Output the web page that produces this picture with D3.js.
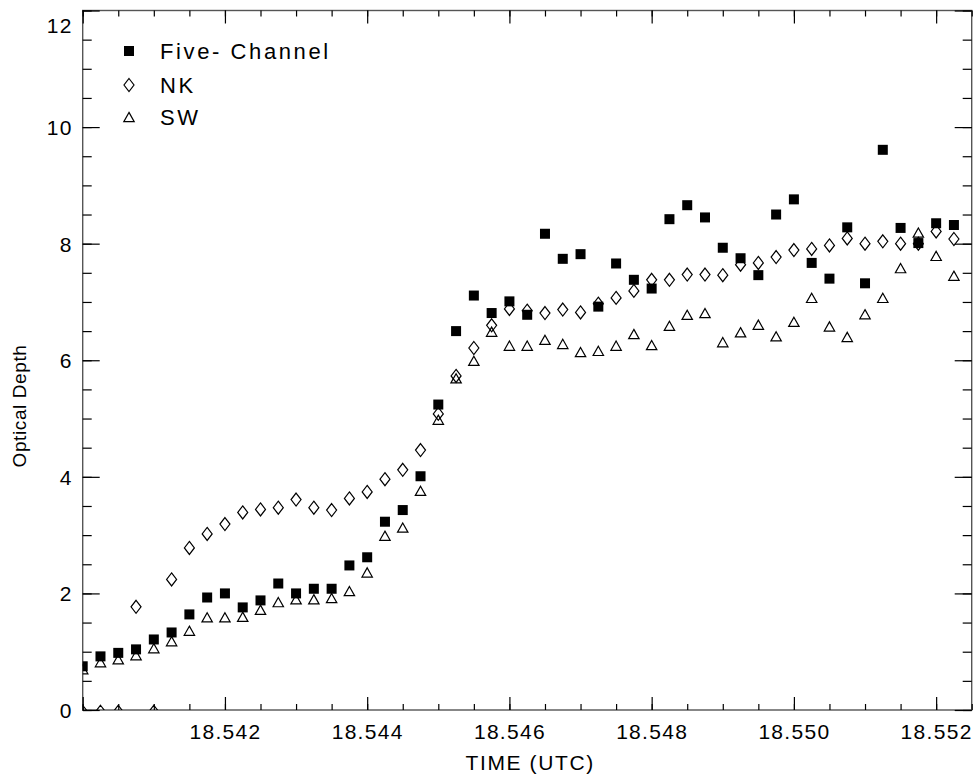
<!DOCTYPE html>
<html>
<head>
<meta charset="utf-8">
<script src="https://cdn.jsdelivr.net/npm/d3@7"></script>
<style>
  html, body { margin: 0; padding: 0; background: #fff; }
  svg text { font-family: "Liberation Sans", Arial, sans-serif; fill: #000; }
</style>
</head>
<body>
<svg id="chart" width="979" height="778"></svg>
<script>
// ---- data ----
const times = [
  18.54000, 18.54025, 18.54050, 18.54075, 18.54100, 18.54125, 18.54150, 18.54175, 18.54200, 18.54225,
  18.54250, 18.54275, 18.54300, 18.54325, 18.54350, 18.54375, 18.54400, 18.54425, 18.54450, 18.54475,
  18.54500, 18.54525, 18.54550, 18.54575, 18.54600, 18.54625, 18.54650, 18.54675, 18.54700, 18.54725,
  18.54750, 18.54775, 18.54800, 18.54825, 18.54850, 18.54875, 18.54900, 18.54925, 18.54950, 18.54975,
  18.55000, 18.55025, 18.55050, 18.55075, 18.55100, 18.55125, 18.55150, 18.55175, 18.55200, 18.55225
];
const fiveChannel = [
  0.75, 0.92, 0.98, 1.04, 1.21, 1.33, 1.64, 1.93, 2.00, 1.76,
  1.88, 2.17, 2.00, 2.08, 2.08, 2.48, 2.62, 3.23, 3.43, 4.01,
  5.24, 6.50, 7.11, 6.81, 7.01, 6.78, 8.17, 7.74, 7.82, 6.92,
  7.66, 7.38, 7.23, 8.42, 8.66, 8.45, 7.93, 7.75, 7.46, 8.50,
  8.76, 7.67, 7.40, 8.28, 7.32, 9.61, 8.27, 8.01, 8.35, 8.32
];
const nk = [
  -0.03, -0.03, -0.03, 1.77, -0.03, 2.24, 2.78, 3.02, 3.19, 3.39,
  3.44, 3.47, 3.61, 3.47, 3.43, 3.63, 3.74, 3.96, 4.12, 4.46,
  5.08, 5.73, 6.21, 6.60, 6.88, 6.85, 6.81, 6.87, 6.82, 6.97,
  7.07, 7.19, 7.38, 7.38, 7.47, 7.47, 7.46, 7.64, 7.67, 7.77,
  7.89, 7.91, 7.97, 8.09, 8.00, 8.04, 8.00, 8.00, 8.21, 8.08
];
const sw = [
  0.70, 0.82, 0.87, 0.94, 1.06, 1.18, 1.36, 1.59, 1.59, 1.60,
  1.72, 1.85, 1.90, 1.90, 1.92, 2.04, 2.36, 2.99, 3.13, 3.76,
  4.98, 5.69, 5.99, 6.49, 6.25, 6.25, 6.35, 6.28, 6.14, 6.16,
  6.25, 6.45, 6.26, 6.59, 6.78, 6.81, 6.31, 6.48, 6.61, 6.41,
  6.66, 7.07, 6.58, 6.40, 6.79, 7.07, 7.58, 8.19, 7.79, 7.45
];
const xMajorTicks = [18.540, 18.542, 18.544, 18.546, 18.548, 18.550, 18.552];
const xTickLabels = ["", "18.542", "18.544", "18.546", "18.548", "18.550", "18.552"];
const yMajorTicks = [0, 2, 4, 6, 8, 10, 12];
const yTickLabels = ["0", "2", "4", "6", "8", "10", "12"];
const legendLabels = ["Five- Channel", "NK", "SW"];
const xTitle = "TIME (UTC)";
const yTitle = "Optical Depth";

// ---- layout ----
const L = 82.7, R = 971.7, T = 10.5, B = 710;
const svg = d3.select("#chart");
const x = d3.scaleLinear().domain([18.540, 18.5525]).range([L, R]);
const y = d3.scaleLinear().domain([0, 12]).range([B, T]);

const xMinor = d3.range(0, 26).map(i => 18.540 + i * 0.0005).filter(v => v <= 18.5525 + 1e-9);
const yMinor = d3.range(0, 25).map(i => i * 0.5);

// clip
svg.append("clipPath").attr("id", "plotclip")
  .append("rect").attr("x", L).attr("y", T).attr("width", R - L).attr("height", B - T);

// frame
svg.append("rect").attr("x", L).attr("y", T).attr("width", R - L).attr("height", B - T)
  .attr("fill", "none").attr("stroke", "#555").attr("stroke-width", 1.4);

function styleAxis(g) {
  g.select(".domain").remove();
  g.selectAll(".tick line").attr("stroke", "#000").attr("stroke-width", 1.2);
  g.selectAll(".tick text").style("font-size", "21px").style("letter-spacing", "1.3px");
}

// bottom axis minor + major
svg.append("g").attr("transform", `translate(0,${B})`)
  .call(d3.axisBottom(x).tickValues(xMinor).tickSize(-6).tickFormat(""))
  .call(styleAxis);
svg.append("g").attr("transform", `translate(0,${B})`)
  .call(d3.axisBottom(x).tickValues(xMajorTicks).tickSize(-13).tickPadding(20)
    .tickFormat((d, i) => xTickLabels[i]))
  .call(styleAxis)
  .call(g => g.selectAll(".tick text").attr("dy", "0.3em").attr("y", 23));
// top axis
svg.append("g").attr("transform", `translate(0,${T})`)
  .call(d3.axisTop(x).tickValues(xMinor).tickSize(-6).tickFormat(""))
  .call(styleAxis);
svg.append("g").attr("transform", `translate(0,${T})`)
  .call(d3.axisTop(x).tickValues(xMajorTicks).tickSize(-13).tickFormat(""))
  .call(styleAxis);
// left axis
svg.append("g").attr("transform", `translate(${L},0)`)
  .call(d3.axisLeft(y).tickValues(yMinor).tickSize(-9).tickFormat(""))
  .call(styleAxis);
svg.append("g").attr("transform", `translate(${L},0)`)
  .call(d3.axisLeft(y).tickValues(yMajorTicks).tickSize(-17).tickPadding(10)
    .tickFormat((d, i) => yTickLabels[i]))
  .call(styleAxis)
  .call(g => g.selectAll(".tick text")
    .attr("x", -10)
    .attr("dy", d => d === 12 ? "1.05em" : "0.36em"));
// right axis
svg.append("g").attr("transform", `translate(${R},0)`)
  .call(d3.axisRight(y).tickValues(yMinor).tickSize(-9).tickFormat(""))
  .call(styleAxis);
svg.append("g").attr("transform", `translate(${R},0)`)
  .call(d3.axisRight(y).tickValues(yMajorTicks).tickSize(-17).tickFormat(""))
  .call(styleAxis);

// titles
svg.append("text").attr("x", (L + R) / 2 + 3).attr("y", 770)
  .attr("text-anchor", "middle").style("font-size", "21px").style("letter-spacing", "1.6px")
  .text(xTitle);
svg.append("text").attr("transform", `translate(26,${406}) rotate(-90)`)
  .attr("text-anchor", "middle").style("font-size", "19px").style("letter-spacing", "0.6px")
  .text(yTitle);

// markers
const sq = 10, dw = 5, dh = 6.5, tw = 5.2, th = 4.6;
const diamondPath = (cx, cy) => `M${cx},${cy - dh}L${cx + dw},${cy}L${cx},${cy + dh}L${cx - dw},${cy}Z`;
const trianglePath = (cx, cy) => `M${cx},${cy - th}L${cx + tw},${cy + th}L${cx - tw},${cy + th}Z`;

const plot = svg.append("g").attr("clip-path", "url(#plotclip)");

plot.append("g").selectAll("path").data(times).join("path")
  .attr("d", (t, i) => diamondPath(x(t), y(nk[i])))
  .attr("fill", "none").attr("stroke", "#000").attr("stroke-width", 1.2);
plot.append("g").selectAll("path").data(times).join("path")
  .attr("d", (t, i) => trianglePath(x(t), y(sw[i])))
  .attr("fill", "none").attr("stroke", "#000").attr("stroke-width", 1.2);
plot.append("g").selectAll("rect").data(times).join("rect")
  .attr("x", t => x(t) - sq / 2)
  .attr("y", (t, i) => y(fiveChannel[i]) - sq / 2)
  .attr("width", sq).attr("height", sq).attr("fill", "#000");

// legend
const lg = svg.append("g");
const legY = [51, 85, 117];
const lgx = 129;
lg.append("rect").attr("x", lgx - sq / 2).attr("y", legY[0] - sq / 2).attr("width", sq).attr("height", sq).attr("fill", "#000");
lg.append("path").attr("d", diamondPath(lgx, legY[1])).attr("fill", "none").attr("stroke", "#000").attr("stroke-width", 1.2);
lg.append("path").attr("d", trianglePath(lgx, legY[2])).attr("fill", "none").attr("stroke", "#000").attr("stroke-width", 1.2);
lg.selectAll("text").data(legendLabels).join("text")
  .attr("x", 160).attr("y", (d, i) => legY[i] + 8)
  .style("font-size", "22px").style("letter-spacing", "2.6px")
  .text(d => d);
</script>
</body>
</html>
